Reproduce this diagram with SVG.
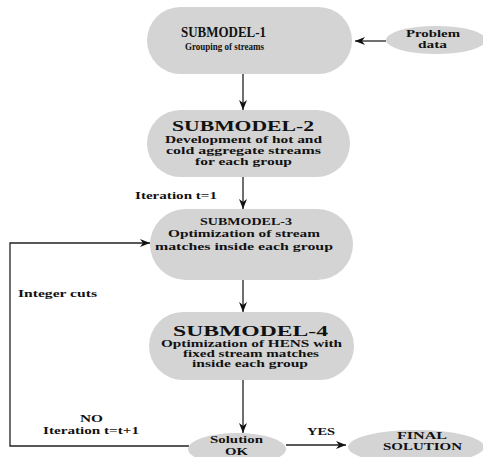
<svg xmlns="http://www.w3.org/2000/svg" width="483" height="457" viewBox="0 0 483 457">
  <style>
    .shape { fill: #d4d4d4; stroke: none; }
    text { font-family: "Liberation Serif", "Times New Roman", serif; font-weight: bold; fill: #111; text-anchor: middle; }
    .title { font-size: 14px; }
    .sub { font-size: 10px; }
    .lbl { font-size: 11px; text-anchor: start; }
    .wire { fill: none; stroke: #222; stroke-width: 1.3; }
  </style>
  <defs>
    <marker id="arrow" viewBox="0 0 10 8" refX="10" refY="4" markerWidth="10" markerHeight="8" markerUnits="userSpaceOnUse" orient="auto">
      <path d="M0,0 L10,4 L0,8 L3,4 z" fill="#111"/>
    </marker>
  </defs>

  <!-- connectors and their labels -->
  <g id="connectors">
    <line class="wire" x1="386" y1="41" x2="355" y2="41" marker-end="url(#arrow)"/>
    <line class="wire" x1="243" y1="74" x2="243" y2="110" marker-end="url(#arrow)"/>
    <line class="wire" x1="243" y1="177" x2="243" y2="209" marker-end="url(#arrow)"/>
    <line class="wire" x1="243" y1="280" x2="243" y2="312" marker-end="url(#arrow)"/>
    <line class="wire" x1="243" y1="380" x2="243" y2="433" marker-end="url(#arrow)"/>
    <line class="wire" x1="286" y1="445" x2="346" y2="445" marker-end="url(#arrow)"/>
    <polyline class="wire" points="189,446 10,446 10,243 150,243" marker-end="url(#arrow)"/>
    <text class="lbl" x="135" y="199" textLength="82" lengthAdjust="spacingAndGlyphs">Iteration t=1</text>
    <text class="lbl" x="18" y="297" textLength="79" lengthAdjust="spacingAndGlyphs">Integer cuts</text>
    <text class="lbl" x="80" y="422" font-size="10" textLength="23" lengthAdjust="spacingAndGlyphs">NO</text>
    <text class="lbl" x="43" y="433.5" font-size="10" textLength="96" lengthAdjust="spacingAndGlyphs">Iteration t=t+1</text>
    <text class="lbl" x="307" y="435" textLength="28" lengthAdjust="spacingAndGlyphs">YES</text>
  </g>

  <g id="submodel-1">
    <rect class="shape" x="147" y="7" width="205" height="67" rx="33.5"/>
    <text class="title" x="223.5" y="37" textLength="85" lengthAdjust="spacingAndGlyphs">SUBMODEL-1</text>
    <text class="sub" x="224.5" y="50" font-size="11" textLength="79" lengthAdjust="spacingAndGlyphs">Grouping of streams</text>
  </g>

  <g id="problem-data">
    <ellipse class="shape" cx="436" cy="40" rx="50" ry="14"/>
    <text class="sub" x="433" y="36.5" textLength="54" lengthAdjust="spacingAndGlyphs">Problem</text>
    <text class="sub" x="432.5" y="48" textLength="29" lengthAdjust="spacingAndGlyphs">data</text>
  </g>

  <g id="submodel-2">
    <rect class="shape" x="147" y="110" width="203" height="67" rx="33.5"/>
    <text class="title" x="243" y="130.5" textLength="142" lengthAdjust="spacingAndGlyphs">SUBMODEL-2</text>
    <text class="sub" x="243.5" y="143" textLength="157" lengthAdjust="spacingAndGlyphs">Development of hot and</text>
    <text class="sub" x="243.5" y="154" textLength="155" lengthAdjust="spacingAndGlyphs">cold  aggregate streams</text>
    <text class="sub" x="243.5" y="165" textLength="97" lengthAdjust="spacingAndGlyphs">for each group</text>
  </g>

  <g id="submodel-3">
    <rect class="shape" x="150" y="209" width="203" height="71" rx="35.5"/>
    <text class="title" x="246" y="225" font-size="11" style="font-size:11px" textLength="92" lengthAdjust="spacingAndGlyphs">SUBMODEL-3</text>
    <text class="sub" x="244" y="237" textLength="152" lengthAdjust="spacingAndGlyphs">Optimization of stream</text>
    <text class="sub" x="244" y="249.5" textLength="178" lengthAdjust="spacingAndGlyphs">matches inside each group</text>
  </g>

  <g id="submodel-4">
    <rect class="shape" x="149" y="312" width="205" height="68" rx="34"/>
    <text class="title" x="250.5" y="335.5" textLength="155" lengthAdjust="spacingAndGlyphs">SUBMODEL-4</text>
    <text class="sub" x="251.5" y="347" style="font-size:9.5px" textLength="181" lengthAdjust="spacingAndGlyphs">Optimization of HENS with</text>
    <text class="sub" x="251" y="357" style="font-size:9.5px" textLength="136" lengthAdjust="spacingAndGlyphs">fixed stream matches</text>
    <text class="sub" x="250" y="367" style="font-size:9.5px" textLength="116" lengthAdjust="spacingAndGlyphs">inside each group</text>
  </g>

  <g id="solution-ok">
    <ellipse class="shape" cx="237" cy="449" rx="49" ry="16"/>
    <text class="sub" x="236.5" y="443" style="font-size:10.5px" textLength="53" lengthAdjust="spacingAndGlyphs">Solution</text>
    <text class="sub" x="236.5" y="455" style="font-size:10.5px" textLength="23" lengthAdjust="spacingAndGlyphs">OK</text>
  </g>

  <g id="final-solution">
    <ellipse class="shape" cx="416" cy="447" rx="68" ry="17"/>
    <text class="sub" x="422" y="439" textLength="50" lengthAdjust="spacingAndGlyphs">FINAL</text>
    <text class="sub" x="422.5" y="449.5" textLength="79" lengthAdjust="spacingAndGlyphs">SOLUTION</text>
  </g>
</svg>
